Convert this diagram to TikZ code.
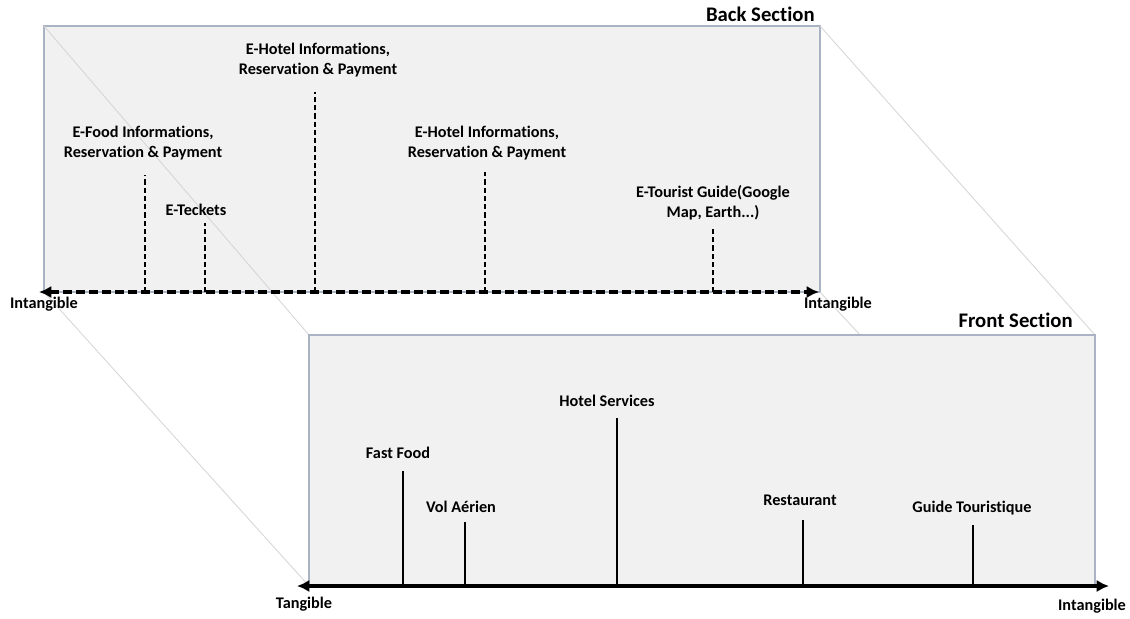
\documentclass[tikz,border=0pt]{standalone}
\usepackage{fontspec}
\setmainfont{Carlito}[Ligatures={NoCommon}]
\usepackage{xcolor}
\usepackage{tikz}
\usetikzlibrary{arrows.meta, positioning}

\definecolor{panelfill}{HTML}{F1F1F1}
\definecolor{panelline}{HTML}{A9B3C4}
\definecolor{linkgray}{HTML}{D6D6D6}

\begin{document}
\begin{tikzpicture}[x=0.02cm, y=-0.02cm,
	panel/.style={fill=panelfill, draw=panelline, line width=0.8pt},
	link/.style={draw=linkgray, line width=0.5pt},
	backaxis/.style={line width=2.2pt, dash pattern=on 5pt off 2.4pt, {Latex[length=7pt, width=7pt]}-{Latex[length=7pt, width=7pt]}},
	frontaxis/.style={line width=1.8pt, {Latex[length=7pt, width=7pt]}-{Latex[length=7pt, width=7pt]}},
	backtick/.style={line width=1.4pt, dash pattern=on 3pt off 1.7pt},
	fronttick/.style={line width=1.3pt},
	lbl/.style={font=\fontsize{9.25}{11.4}\selectfont\bfseries, align=center, inner sep=0pt},
	title/.style={font=\fontsize{11.8}{14}\selectfont\bfseries, inner sep=0pt}]
	\useasboundingbox (0, 0) rectangle (1130, 619);
	% Corners of the two sections:
	\coordinate (bTL) at (44, 26);
	\coordinate (bTR) at (820, 26);
	\coordinate (bBL) at (44, 292);
	\coordinate (bBR) at (820, 292);
	\coordinate (fTL) at (309, 335);
	\coordinate (fTR) at (1095, 335);
	\coordinate (fBL) at (309, 586);
	\coordinate (fBR) at (1095, 586);
	% Back section and the links to the front:
	\draw[panel] (bTL) rectangle (bBR);
	\draw[link] (bTL) -- (fTL);
	\draw[link] (bTR) -- (fTR);
	\draw[link] (bBL) -- (fBL);
	\draw[link] (bBR) -- (fBR);
	\draw[panel] (fTL) rectangle (fBR);
	\node[title, anchor=east] (backtitle) at (815, 14){Back Section};
	\node[title, anchor=east] (fronttitle) at (1073, 320){Front Section};
	% Axes:
	\coordinate (bAxisL) at (39, 292);
	\coordinate (bAxisR) at (819, 292);
	\coordinate (fAxisL) at (297, 586);
	\coordinate (fAxisR) at (1109, 586);
	\draw[backaxis] (bAxisL) -- (bAxisR);
	\draw[frontaxis] (fAxisL) -- (fAxisR);
	\node[lbl] (bLeftlbl) at (44, 304){Intangible};
	\node[lbl] (bRightlbl) at (838, 304){Intangible};
	\node[lbl] (fLeftlbl) at (304, 604){Tangible};
	\node[lbl] (fRightlbl) at (1092, 606){Intangible};
	% Back section items:
	\coordinate (efoodB) at (145, 292);
	\coordinate (efoodT) at (145, 175);
	\draw[backtick] (efoodB) -- (efoodT);
	\node[lbl] (efoodlbl) at (143, 143){E-Food Informations,\\Reservation \& Payment};
	\coordinate (eticketB) at (205, 292);
	\coordinate (eticketT) at (205, 223);
	\draw[backtick] (eticketB) -- (eticketT);
	\node[lbl] (eticketlbl) at (196, 210){E-Teckets};
	\coordinate (ehotelaB) at (315, 292);
	\coordinate (ehotelaT) at (315, 92);
	\draw[backtick] (ehotelaB) -- (ehotelaT);
	\node[lbl] (ehotelalbl) at (318, 60){E-Hotel Informations,\\Reservation \& Payment};
	\coordinate (ehotelbB) at (485, 292);
	\coordinate (ehotelbT) at (485, 172);
	\draw[backtick] (ehotelbB) -- (ehotelbT);
	\node[lbl] (ehotelblbl) at (487, 143){E-Hotel Informations,\\Reservation \& Payment};
	\coordinate (eguideB) at (713, 292);
	\coordinate (eguideT) at (713, 227);
	\draw[backtick] (eguideB) -- (eguideT);
	\node[lbl] (eguidelbl) at (713, 203){E-Tourist Guide(Google\\Map, Earth...)};
	% Front section items:
	\coordinate (fastB) at (403, 586);
	\coordinate (fastT) at (403, 471);
	\draw[fronttick] (fastB) -- (fastT);
	\node[lbl] (fastlbl) at (398, 453){Fast Food};
	\coordinate (volB) at (465, 586);
	\coordinate (volT) at (465, 522);
	\draw[fronttick] (volB) -- (volT);
	\node[lbl] (vollbl) at (461, 507){Vol Aérien};
	\coordinate (hotelB) at (617, 586);
	\coordinate (hotelT) at (617, 418);
	\draw[fronttick] (hotelB) -- (hotelT);
	\node[lbl] (hotellbl) at (607, 401){Hotel Services};
	\coordinate (restoB) at (803, 586);
	\coordinate (restoT) at (803, 520);
	\draw[fronttick] (restoB) -- (restoT);
	\node[lbl] (restolbl) at (800, 500){Restaurant};
	\coordinate (guideB) at (973, 586);
	\coordinate (guideT) at (973, 525);
	\draw[fronttick] (guideB) -- (guideT);
	\node[lbl] (guidelbl) at (972, 508){Guide Touristique};
\end{tikzpicture}
\end{document}
